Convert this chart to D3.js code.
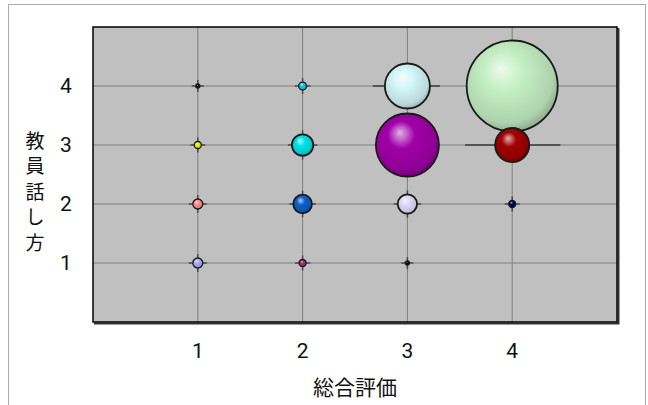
<!DOCTYPE html>
<html><head><meta charset="utf-8">
<script src="https://cdn.jsdelivr.net/npm/d3@7"></script>
<style>body{margin:0;background:#fff}svg{display:block}</style>
</head><body>
<svg id="c" width="648" height="405"></svg>
<script>
// ---- data ----
const xTicks = [1, 2, 3, 4];
const yTicks = [1, 2, 3, 4];
const xTitle = "総合評価";
const yTitle = "教員話し方";
// bubble series: 総合評価 (x), 教員話し方 (y), size
const bubbleX = [4, 3, 3, 4, 2, 3, 2, 1, 1, 2, 4, 2, 1, 1, 3];
const bubbleY = [4, 3, 4, 3, 3, 2, 2, 2, 1, 4, 2, 1, 3, 4, 1];
const bubbleSize = [200, 96, 49, 28, 11, 9, 8.4, 2.4, 2.4, 1.5, 1.2, 1.2, 1.2, 0.4, 0.4];
const bubbleColor = ["#c4efc4", "#a000a8", "#d4f6f8", "#a00000", "#00e0e4", "#dcdcfa", "#0a60c8",
  "#ff8c8c", "#a8a8ff", "#10c8ec", "#000070", "#b02878", "#f0f000", "#000000", "#000000"];
// horizontal bars drawn across two bubbles [y, xFrom, xTo]
const barY = [4, 3];
const barFrom = [2.67, 3.55];
const barTo = [3.31, 4.46];

// ---- layout ----
const svg = d3.select("#c");
const L = 93, R = 617, T = 27, B = 322;
const x = d3.scaleLinear().domain([0, 5]).range([L, R]);
const y = d3.scaleLinear().domain([0, 5]).range([B, T]);
const r = d3.scaleSqrt().domain([0, 200]).range([0, 45.5]);

// outer frame
svg.append("path").attr("d", "M8.5,405 V4.5 H645.5 V405").attr("fill", "none").attr("stroke", "#aaa").attr("stroke-width", 1);

// plot background
svg.append("rect").attr("x", L).attr("y", T).attr("width", R - L).attr("height", B - T).attr("fill", "#c0c0c0");

// gridlines
svg.append("g").selectAll("line").data(xTicks).join("line")
  .attr("x1", d => x(d)).attr("x2", d => x(d)).attr("y1", T).attr("y2", B)
  .attr("stroke", "#7f7f7f").attr("stroke-width", 1);
svg.append("g").selectAll("line").data(yTicks).join("line")
  .attr("y1", d => y(d)).attr("y2", d => y(d)).attr("x1", L).attr("x2", R)
  .attr("stroke", "#7f7f7f").attr("stroke-width", 1);

// plot border with shadow
svg.append("path").attr("d", `M${R + 1.5},${T + 1} V${B + 1.5} H${L + 1}`).attr("fill", "none").attr("stroke", "#333").attr("stroke-width", 2);
svg.append("rect").attr("x", L).attr("y", T).attr("width", R - L).attr("height", B - T)
  .attr("fill", "none").attr("stroke", "#000").attr("stroke-width", 1.5);

// bars
svg.append("g").selectAll("line").data(barY).join("line")
  .attr("x1", (d, i) => x(barFrom[i])).attr("x2", (d, i) => x(barTo[i]))
  .attr("y1", d => y(d)).attr("y2", d => y(d))
  .attr("stroke", "#555").attr("stroke-width", 2);

// gradients
const defs = svg.append("defs");
bubbleColor.forEach((c, i) => {
  const base = d3.color(c);
  const hl = d3.interpolateRgb(c, "#fff")(0.7);
  const dark = base.darker(1.1);
  const g = defs.append("radialGradient").attr("id", "g" + i)
    .attr("cx", "45%").attr("cy", "42%").attr("r", "62%").attr("fx", "38%").attr("fy", "30%");
  g.append("stop").attr("offset", "0%").attr("stop-color", hl);
  g.append("stop").attr("offset", "35%").attr("stop-color", c);
  g.append("stop").attr("offset", "82%").attr("stop-color", base.darker(0.35));
  g.append("stop").attr("offset", "100%").attr("stop-color", dark);
});

const idx = d3.range(bubbleX.length);
// cross marks under bubbles
const cross = svg.append("g");
idx.forEach(i => {
  const cx = x(bubbleX[i]), cy = y(bubbleY[i]), rr = r(bubbleSize[i]), e = rr + 4;
  if (rr < 12) {
    cross.append("line").attr("x1", cx - e).attr("x2", cx + e).attr("y1", cy).attr("y2", cy).attr("stroke", "#4a4a4a").attr("stroke-width", 1.5);
    cross.append("line").attr("y1", cy - e).attr("y2", cy + e).attr("x1", cx).attr("x2", cx).attr("stroke", "#4a4a4a").attr("stroke-width", 1.5);
  }
});

svg.append("g").selectAll("circle").data(idx).join("circle")
  .attr("cx", i => x(bubbleX[i])).attr("cy", i => y(bubbleY[i]))
  .attr("r", i => Math.max(r(bubbleSize[i]), 1.8))
  .attr("fill", i => `url(#g${i})`)
  .attr("stroke", "#1a1a1a").attr("stroke-width", i => r(bubbleSize[i]) > 8 ? 1.8 : 1.3);

// tick labels
const numFont = "Roboto, 'Liberation Sans', sans-serif";
svg.append("g").selectAll("text").data(xTicks).join("text")
  .attr("x", d => x(d)).attr("y", 351).attr("text-anchor", "middle").attr("dominant-baseline", "central")
  .attr("font-family", numFont).attr("font-size", 21).attr("fill", "#111").text(d => d);
svg.append("g").selectAll("text").data(yTicks).join("text")
  .attr("x", 66).attr("y", d => y(d)).attr("text-anchor", "middle").attr("dominant-baseline", "central")
  .attr("font-family", numFont).attr("font-size", 21).attr("fill", "#111").text(d => d);

// titles
const jpFont = "'Noto Sans CJK JP',sans-serif";
svg.append("text").attr("x", 355).attr("y", 386).attr("text-anchor", "middle").attr("dominant-baseline", "central")
  .attr("font-family", jpFont).attr("font-size", 21).attr("fill", "#111").text(xTitle);
svg.append("g").selectAll("text").data(Array.from(yTitle)).join("text")
  .attr("x", 35).attr("y", (d, i) => 139 + i * 25.5)
  .attr("text-anchor", "middle").attr("dominant-baseline", "central")
  .attr("font-family", jpFont).attr("font-size", 19).attr("fill", "#111").text(d => d);
</script>
</body></html>
